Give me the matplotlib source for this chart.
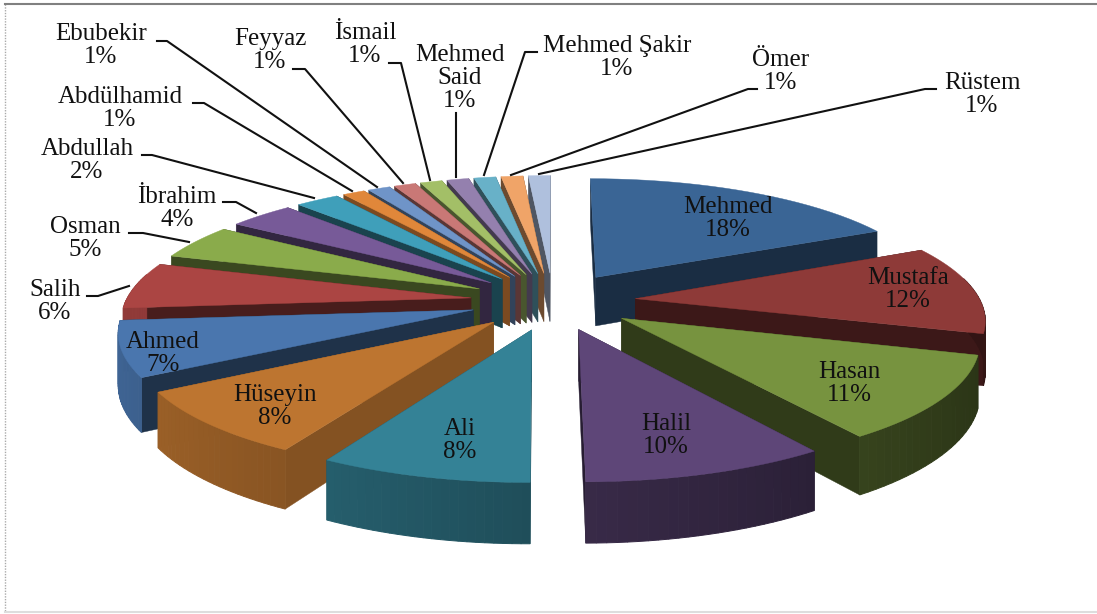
import numpy as np
import matplotlib
matplotlib.use("Agg")
import matplotlib.pyplot as plt
from matplotlib.patches import Polygon
from matplotlib.colors import to_rgb

names = ["Mehmed","Mustafa","Hasan","Halil","Ali","Hüseyin","Ahmed","Salih","Osman","İbrahim",
         "Abdullah","Abdülhamid","Ebubekir","Feyyaz","İsmail","Mehmed\nSaid","Mehmed Şakir","Ömer","Rüstem"]
percent = [17.9,11.7,10.9,9.5,8.2,8.4,7.2,6.1,4.6,3.6,2.4,1.21,1.21,1.21,1.21,1.21,1.21,1.21,1.21]
colors = ["#3a6595","#8e3a38","#77933f","#5e4678","#348296","#bd7530","#4a76ae","#ab4543","#8aab4b","#775a98",
          "#3f9fba","#e0873a","#6f94c8","#c97876","#a3bf67","#9480ae","#68b1c8","#f0a468","#afc0dd"]
wall_shade = [.45,.42,.40,.42,.60,.70,.42,.42,.42,.42,.42,.55,.45,.45,.45,.45,.45,.45,.45]

# projection parameters (pixel space)
CX, CY, AX, BY, PERSP, EXPL, DEPTH = 553, 301, 345, 120, .15, .24, 50

def project(x, y, z=0):
    s = 1/(1-PERSP*y)
    return CX+AX*x*s, CY+(BY*y+DEPTH*z)*s

def shade(c, f):
    return tuple(min(1, v*f) for v in to_rgb(c))

fig = plt.figure(figsize=(10.97, 6.14), dpi=100)
ax = fig.add_axes([0, 0, 1, 1])
ax.set_xlim(0, 1097); ax.set_ylim(614, 0); ax.axis("off")

# frame
ax.plot([5, 5], [4, 612], color="#aaaaaa", lw=1, ls=(0, (1, 1)))
ax.plot([5, 1097], [4, 4], color="#808080", lw=1.5)
ax.plot([5, 1097], [612, 612], color="#dddddd", lw=1.5)

total = sum(percent)
edges = np.cumsum([0]+percent)/total*2*np.pi
order = sorted(range(len(percent)), key=lambda i: -np.cos((edges[i]+edges[i+1])/2))

for i in order:
    a0, a1 = edges[i], edges[i+1]
    mid = (a0+a1)/2
    ox, oy = EXPL*np.sin(mid), -EXPL*np.cos(mid)
    th = np.linspace(a0, a1, 25)
    rx, ry = ox+np.sin(th), oy-np.cos(th)
    top = np.array([project(ox, oy)]+[project(a, b) for a, b in zip(rx, ry)])
    low = [project(a, b, 1) for a, b in zip(rx, ry)]
    c = colors[i]
    # radial walls
    for a, b in ((rx[0], ry[0]), (rx[-1], ry[-1])):
        poly = [project(ox, oy), project(a, b), project(a, b, 1), project(ox, oy, 1)]
        ax.add_patch(Polygon(poly, closed=True, fc=shade(c, wall_shade[i]), ec=shade(c, wall_shade[i]), lw=.3))
    # outer rim
    for k in range(len(th)-1):
        f = .6-.25*np.sin((th[k]+th[k+1])/2)
        if np.cos(th[k]) < .2:
            poly = [top[k+1], top[k+2], low[k+1], low[k]]
            ax.add_patch(Polygon(poly, closed=True, fc=shade(c, f), ec=shade(c, f), lw=.7))
    # top face
    ax.add_patch(Polygon(top, closed=True, fc=c, ec=c, lw=.3))

# labels: name, x, y of the name line, line spacing
font = dict(family="Liberation Serif", fontsize=18, color="#111111", ha="center", va="center")
label_pos = [(728,207),(908,278),(849,372),(666,424),(460,429),(275,395),(163,342),(55,290),(85,227),(177,197),
             (87,149),(120,97),(101,34),(270,39),(365,33),(460,55),(617,46),(781,60),(982,83)]
for n, p, (x, y) in zip(names, percent, label_pos):
    y2 = y
    for line in n.split("\n")+[f"{p:.0f}%"]:
        ax.text(x, y2, line, **font)
        y2 += 23

leaders = [
 [(87,296),(98,296),(129,286)],
 [(129,233),(143,233),(189,242)],
 [(223,202),(236,202),(256,213)],
 [(142,155),(152,155),(314,198)],
 [(193,103),(204,103),(352,191)],
 [(157,41),(167,41),(377,187)],
 [(293,69),(305,69),(403,183)],
 [(389,63),(401,63),(430,180)],
 [(456,113),(456,177)],
 [(537,52),(525,52),(484,175)],
 [(757,89),(748,89),(511,175)],
 [(936,89),(925,89),(539,174)],
]
for pts in leaders:
    xs, ys = zip(*pts)
    ax.plot(xs, ys, color="#111111", lw=1.5)

fig.savefig("out.png", dpi=100)
